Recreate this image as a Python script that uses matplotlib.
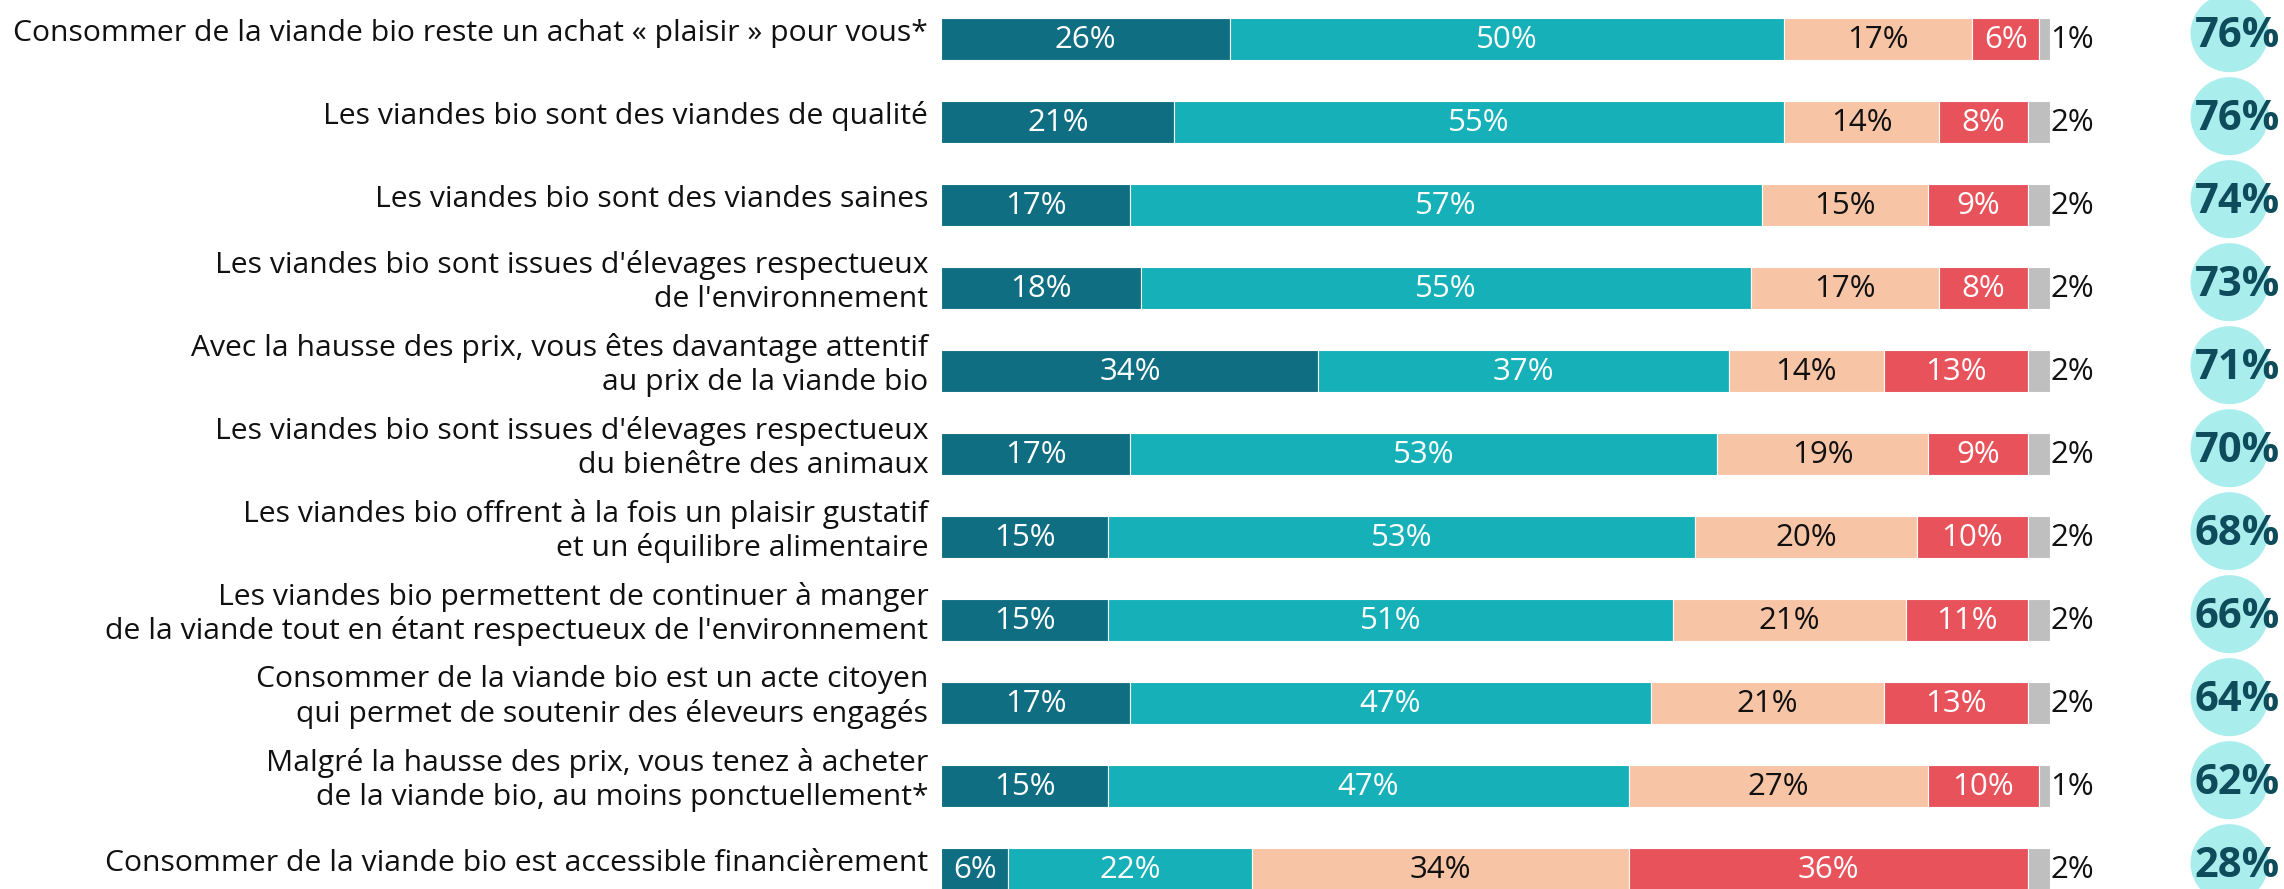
import matplotlib
matplotlib.use("Agg")
import matplotlib.pyplot as plt
import numpy as np

plt.rcParams['font.family'] = ['Open Sans', 'DejaVu Sans']

categories = [
    "Consommer de la viande bio reste un achat « plaisir » pour vous*",
    "Les viandes bio sont des viandes de qualité",
    "Les viandes bio sont des viandes saines",
    "Les viandes bio sont issues d'élevages respectueux\nde l'environnement",
    "Avec la hausse des prix, vous êtes davantage attentif\nau prix de la viande bio",
    "Les viandes bio sont issues d'élevages respectueux\ndu bienêtre des animaux",
    "Les viandes bio offrent à la fois un plaisir gustatif\net un équilibre alimentaire",
    "Les viandes bio permettent de continuer à manger\nde la viande tout en étant respectueux de l'environnement",
    "Consommer de la viande bio est un acte citoyen\nqui permet de soutenir des éleveurs engagés",
    "Malgré la hausse des prix, vous tenez à acheter\nde la viande bio, au moins ponctuellement*",
    "Consommer de la viande bio est accessible financièrement",
]
tout_a_fait = [26, 21, 17, 18, 34, 17, 15, 15, 17, 15, 6]
plutot_oui = [50, 55, 57, 55, 37, 53, 53, 51, 47, 47, 22]
plutot_non = [17, 14, 15, 17, 14, 19, 20, 21, 21, 27, 34]
pas_du_tout = [6, 8, 9, 8, 13, 9, 10, 11, 13, 10, 36]
nsp = [1, 2, 2, 2, 2, 2, 2, 2, 2, 1, 2]
totals = [76, 76, 74, 73, 71, 70, 68, 66, 64, 62, 28]

series = [tout_a_fait, plutot_oui, plutot_non, pas_du_tout, nsp]
colors = ["#0F6E82", "#15B0B8", "#F7C4A5", "#E8525B", "#BFBFBF"]
text_colors = ["white", "white", "#111111", "white", "#111111"]

W, H = 2284, 889
fig = plt.figure(figsize=(W / 100, H / 100), dpi=100)
ax = fig.add_axes([0, 0, 1, 1])

px_per_unit = 11.085
x0_px = 941.5
row_px = 83.0
row0_px = 39.0
ax.set_xlim(-x0_px / px_per_unit, (W - x0_px) / px_per_unit)
ax.set_ylim((H - row0_px) / row_px, -row0_px / row_px)
ax.axis('off')

y = np.arange(len(categories))
left = np.zeros(len(categories))
for k, (vals, col, tcol) in enumerate(zip(series, colors, text_colors)):
    vals = np.array(vals, dtype=float)
    ax.barh(y, vals, left=left, height=0.5, color=col, edgecolor='white', linewidth=0.8)
    for i, v in enumerate(vals):
        if k < 4:
            ax.text(left[i] + v / 2, y[i] + 0.01, f"{int(v)}%", ha='center', va='center',
                    fontsize=22.5, color=tcol)
        else:
            ax.text(left[i] + v, y[i] + 0.01, f"{int(v)}%", ha='left', va='center',
                    fontsize=22.5, color=tcol)
    left += vals

for i, lab in enumerate(categories):
    ax.text(-1.2, y[i] - 0.07, lab, ha='right', va='center', fontsize=21.7,
            color='#111111', linespacing=1.2)

circ_x = (2229.5 - x0_px) / px_per_unit
ax.scatter(np.full(len(totals), circ_x), y - 0.07, s=(78 * 0.72) ** 2,
           color="#A9EDED", edgecolors='none', zorder=3)
for i, t in enumerate(totals):
    ax.text(circ_x + 0.7, y[i] - 0.03, f"{t}%", ha='center', va='center',
            fontsize=30, fontweight='bold', color="#0E4B5B", zorder=4)

fig.savefig("out.png", dpi=100)
